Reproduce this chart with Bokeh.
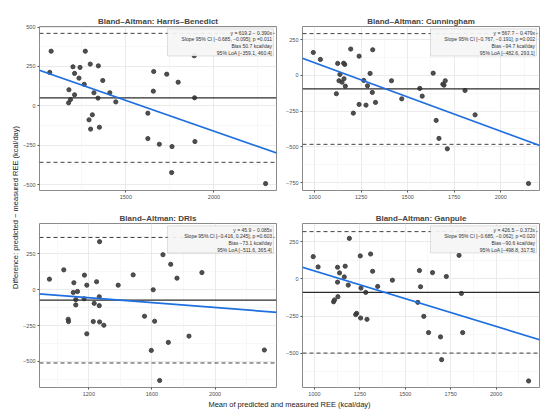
from math import pi
from bokeh.plotting import figure
from bokeh.layouts import row, column
from bokeh.models import Range1d, FixedTicker, Span, Slope, BoxAnnotation, Label
from bokeh.embed import file_html
from bokeh.resources import INLINE

# ---------------- data ----------------
titles = ["Bland–Altman: Harris–Benedict", "Bland–Altman: Cunningham",
          "Bland–Altman: DRIs", "Bland–Altman: Ganpule"]

hb_mean = [1076, 1068, 1177, 1175, 1186, 1209, 1200, 1209, 1240, 1234, 1270, 1264,
           1298, 1319, 1344, 1342, 1369, 1409, 1443, 1291, 1310, 1300, 1350, 1658,
           1732, 1797, 1656, 1625, 1625, 1690, 1762, 1760, 1888, 1890, 1892, 2293]
hb_diff = [347, 212, 102, 19, 40, 70, 248, 206, 244, 176, 347, 136,
           265, 83, 254, 49, 161, 83, 25, -89, -57, -148, -136, 218,
           201, 150, 93, -47, -208, -244, -259, -424, 318, 51, -227, -494]

cu_mean = [993, 1031, 1124, 1156, 1162, 1194, 1239, 1312, 1136, 1131, 1147, 1158,
           1165, 1117, 1208, 1239, 1264, 1284, 1298, 1310, 1276, 1327, 1413, 1468,
           1565, 1578, 1637, 1689, 1695, 1702, 1653, 1668, 1713, 1808, 1862, 2149]
cu_diff = [161, 112, 84, 86, 77, 185, 135, 180, 7, -37, -47, -23,
           -75, -128, -264, -203, -35, -72, 14, -119, -208, -189, -37, -164,
           -91, -145, 16, -61, -68, -37, -315, -441, -514, -105, -276, -757]

dri_mean = [950, 1041, 1172, 1105, 1187, 1249, 1268, 1101, 1128, 1117, 1117, 1170,
            1234, 1266, 1266, 1069, 1071, 1228, 1268, 1295, 1187, 1386, 1481, 1608,
            1553, 1617, 1596, 1649, 1670, 1719, 1759, 1704, 1835, 1917, 2313]
dri_diff = [74, 139, 102, 49, 32, 56, 336, -19, -12, -69, -106, -63,
            -95, -49, -111, -206, -222, -222, -225, -248, -308, 32, 104, 0,
            -185, -220, -424, -634, 245, 178, 81, -368, -324, 120, -421]

ga_mean = [993, 1020, 1127, 1138, 1169, 1164, 1127, 1186, 1192, 1252, 1309, 1320,
           1256, 1282, 1348, 1429, 1105, 1110, 1129, 1227, 1232, 1254, 1289, 1578,
           1584, 1650, 1726, 1569, 1602, 1628, 1694, 1700, 1796, 1809, 1816, 2179]
ga_diff = [149, 80, 78, 40, 85, 13, -22, -42, 272, 154, 167, 51,
           -62, -91, -51, -9, -154, -142, -120, -240, -232, -263, -272, 56,
           -53, 42, 16, -158, -252, -361, -390, -543, 158, -98, -361, -686]

intercepts = [619.2, 567.7, 45.9, 426.5]
slopes = [-0.390, -0.479, -0.085, -0.373]
ci_low = [-0.685, -0.767, -0.416, -0.685]
ci_high = [-0.095, -0.191, 0.245, -0.062]
p_values = ["0.011", "0.002", "0.603", "0.020"]
bias = [50.7, -94.7, -73.1, -90.6]
loa_low = [-359.1, -482.6, -511.6, -498.8]
loa_high = [460.4, 293.1, 365.4, 317.5]

# axis limits and ticks
x_limits = [(1010, 2355), (935, 2208), (887, 2390), (934, 2239)]
y_limits = [(-538, 504), (-806, 343), (-683, 463), (-730, 372)]
x_ticks = [[1500, 2000], [1000, 1250, 1500, 1750, 2000],
           [1200, 1600, 2000], [1000, 1250, 1500, 1750, 2000]]
x_minor = [[1250, 1750, 2250], [1125, 1375, 1625, 1875, 2125],
           [1000, 1400, 1800, 2200], [1125, 1375, 1625, 1875, 2125]]
y_ticks = [[-500, -250, 0, 250, 500], [-750, -500, -250, 0, 250],
           [-500, -250, 0, 250], [-500, -250, 0, 250]]
y_minor = [[-375, -125, 125, 375], [-625, -375, -125, 125],
           [-625, -375, -125, 125, 375], [-625, -375, -125, 125]]

FONT = "Liberation Sans"
FW, FH = 237, 164


def fmt(v):
    s = f"{abs(v):.3f}"
    return ("−" if v < 0 else "") + s


def make_panel(i, xs, ys, bl, br, bt, bb):
    xl, yl = x_limits[i], y_limits[i]
    p = figure(frame_width=FW, frame_height=FH,
               x_range=Range1d(*xl), y_range=Range1d(*yl),
               output_backend="svg", toolbar_location=None, title=titles[i],
               min_border_left=bl, min_border_right=br,
               min_border_top=bt, min_border_bottom=bb)
    p.title.text_font = FONT
    p.title.text_font_size = "8px"
    p.title.text_font_style = "bold"
    p.title.align = "center"
    p.title.standoff = 2
    p.title.offset = 0
    p.outline_line_color = "#8a8a8a"
    p.outline_line_width = 1

    xt = FixedTicker(ticks=x_ticks[i], minor_ticks=x_minor[i])
    yt = FixedTicker(ticks=y_ticks[i], minor_ticks=y_minor[i])
    p.xaxis.ticker = xt
    p.xgrid.ticker = xt
    p.yaxis.ticker = yt
    p.ygrid.ticker = yt
    for g in (p.xgrid, p.ygrid):
        g.grid_line_color = "#e6e6e6"
        g.grid_line_width = 0.8
        g.minor_grid_line_color = "#f3f3f3"
        g.minor_grid_line_width = 0.6
    for ax in (p.xaxis, p.yaxis):
        ax.axis_line_color = None
        ax.major_tick_in = 0
        ax.major_tick_out = 2
        ax.minor_tick_in = 0
        ax.minor_tick_out = 0
        ax.major_tick_line_color = "#555555"
        ax.major_label_text_font = FONT
        ax.major_label_text_font_size = "5.5px"
        ax.major_label_text_color = "#4d4d4d"
        ax.major_label_standoff = 2

    p.scatter(xs, ys, size=4.2, color="#3c3c3c", alpha=0.9)

    p.add_layout(Span(location=bias[i], dimension="width",
                      line_color="#2b2b2b", line_width=1.2))
    for loc in (loa_low[i], loa_high[i]):
        p.add_layout(Span(location=loc, dimension="width", line_color="#2b2b2b",
                          line_width=0.9, line_dash="4 3"))
    p.add_layout(Slope(gradient=slopes[i], y_intercept=intercepts[i],
                       line_color="#1f6fe0", line_width=1.7))

    # stats box, placed in frame pixel offsets converted to data coordinates
    xs_span = xl[1] - xl[0]
    ys_span = yl[1] - yl[0]

    def px(v):
        return xl[0] + v / FW * xs_span

    def py(v):
        return yl[1] - v / FH * ys_span

    p.add_layout(BoxAnnotation(left=px(128), right=px(234), top=py(2.3), bottom=py(29.5),
                               fill_color="#f5f5f5", fill_alpha=0.92,
                               line_color="#8c8c8c", line_width=0.8))
    sign = "−" if slopes[i] < 0 else "+"
    lines = [f"y = {intercepts[i]:.1f} {sign} {abs(slopes[i]):.3f}x",
             f"Slope 95% CI [{fmt(ci_low[i])}, {fmt(ci_high[i])}]; p ={p_values[i]}",
             f"Bias {'−' if bias[i] < 0 else ''}{abs(bias[i]):.1f} kcal/day",
             f"95% LoA [{'−' if loa_low[i] < 0 else ''}{abs(loa_low[i]):.1f}, {loa_high[i]:.1f}]"]
    for k, t in enumerate(lines):
        p.add_layout(Label(x=px(232.5), y=py(6 + 6.8 * k), text=t,
                           text_align="right", text_baseline="middle",
                           text_font=FONT, text_font_size="5px",
                           text_color="#333333"))
    return p


p1 = make_panel(0, hb_mean, hb_diff, 19, 2, 26, 15)
p2 = make_panel(1, cu_mean, cu_diff, 24, 3, 26, 15)
p3 = make_panel(2, dri_mean, dri_diff, 19, 2, 18, 12)
p4 = make_panel(3, ga_mean, ga_diff, 24, 3, 18, 12)

ylab = figure(width=20, height=399, x_range=Range1d(0, 1), y_range=Range1d(0, 1),
              output_backend="svg", toolbar_location=None, title=None,
              x_axis_type=None, y_axis_type=None, min_border=0)
ylab.outline_line_color = None
ylab.grid.visible = False
ylab.add_layout(Label(x=15 / 20, y=1 - 207 / 399,
                      text="Difference: predicted − measured REE (kcal/day)",
                      angle=pi / 2, text_align="center", text_baseline="middle",
                      text_font=FONT, text_font_size="7.5px", text_color="#1a1a1a"))

xlab = figure(width=522, height=14, x_range=Range1d(0, 1), y_range=Range1d(0, 1),
              output_backend="svg", toolbar_location=None, title=None,
              x_axis_type=None, y_axis_type=None, min_border=0)
xlab.outline_line_color = None
xlab.grid.visible = False
xlab.add_layout(Label(x=269 / 522, y=1 - 5 / 14,
                      text="Mean of predicted and measured REE (kcal/day)",
                      text_align="center", text_baseline="middle",
                      text_font=FONT, text_font_size="7.5px", text_color="#1a1a1a"))

layout = row(ylab, column(row(p1, p2), row(p3, p4), xlab))

open("out.html", "w").write(file_html(layout, INLINE))
